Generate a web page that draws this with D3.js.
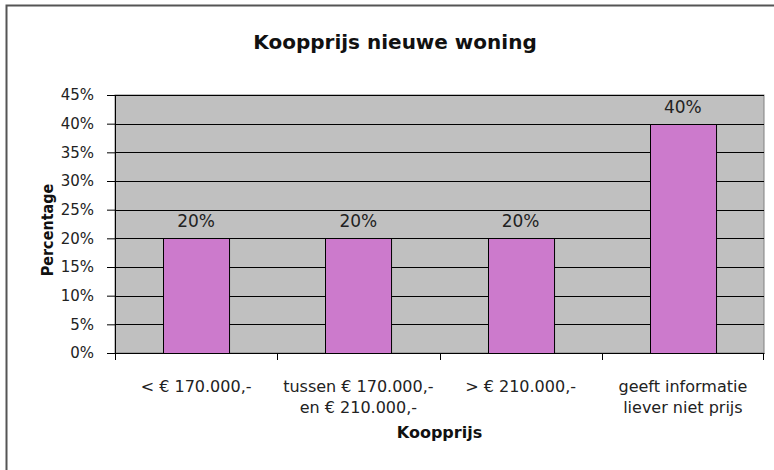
<!DOCTYPE html>
<html>
<head>
<meta charset="utf-8">
<script src="https://cdn.jsdelivr.net/npm/d3@7"></script>
<style>
  body { margin: 0; background: #fff; }
  svg { display: block; font-family: "DejaVu Sans", Verdana, sans-serif; }
</style>
</head>
<body>
<div id="chart"></div>
<script>
// chart data
const categories = [
  ["< € 170.000,-"],
  ["tussen € 170.000,-", "en € 210.000,-"],
  ["> € 210.000,-"],
  ["geeft informatie", "liever niet prijs"]
];
const values = [0.20, 0.20, 0.20, 0.40];
const yTicks = [0, 0.05, 0.10, 0.15, 0.20, 0.25, 0.30, 0.35, 0.40, 0.45];

const width = 774, height = 470;
const margin = { top: 95, right: 10, bottom: 117, left: 115 };
const plotW = width - margin.left - margin.right;
const plotH = height - margin.top - margin.bottom;

const svg = d3.select("#chart")
  .append("svg")
  .attr("width", width)
  .attr("height", height);

// outer chart frame (only left/top visible in the crop)
svg.append("path")
  .attr("d", "M6.5,470 V5.5 H774")
  .attr("fill", "none")
  .attr("stroke", "#555")
  .attr("stroke-width", 2);

svg.append("text")
  .attr("x", 395)
  .attr("y", 49)
  .attr("text-anchor", "middle")
  .attr("font-size", 20)
  .attr("font-weight", "bold")
  .attr("fill", "#111")
  .text("Koopprijs nieuwe woning");

const g = svg.append("g")
  .attr("transform", "translate(" + margin.left + "," + margin.top + ")");

const x = d3.scaleBand()
  .domain(d3.range(categories.length))
  .range([0, plotW])
  .paddingInner(0.593)
  .paddingOuter(0.2965);

const xBand = d3.scaleBand()
  .domain(d3.range(categories.length))
  .range([0, plotW]);

const y = d3.scaleLinear()
  .domain([0, 0.45])
  .range([plotH, 0]);

// plot area
g.append("rect")
  .attr("width", plotW)
  .attr("height", plotH)
  .attr("fill", "#c0c0c0")
  .attr("stroke", "#808080");

// gridlines
g.append("g")
  .selectAll("line")
  .data(yTicks.slice(1))
  .join("line")
  .attr("x1", 0)
  .attr("x2", plotW)
  .attr("y1", d => Math.round(y(d)) + 0.5)
  .attr("y2", d => Math.round(y(d)) + 0.5)
  .attr("stroke", "#000")
  .attr("stroke-width", 1);

// bars
g.append("g")
  .selectAll("rect")
  .data(values)
  .join("rect")
  .attr("x", (d, i) => Math.round(x(i)) + 0.5)
  .attr("y", d => Math.round(y(d)) + 0.5)
  .attr("width", x.bandwidth())
  .attr("height", d => plotH - Math.round(y(d)))
  .attr("fill", "#cc7acc")
  .attr("stroke", "#000")
  .attr("stroke-width", 1);

// value labels
g.append("g")
  .selectAll("text")
  .data(values)
  .join("text")
  .attr("x", (d, i) => x(i) + x.bandwidth() / 2)
  .attr("y", d => y(d) - 11)
  .attr("text-anchor", "middle")
  .attr("font-size", 17)
  .attr("fill", "#222")
  .text(d => d3.format(".0%")(d));

// y axis
const yAxis = g.append("g")
  .call(d3.axisLeft(y).tickValues(yTicks).tickFormat(d3.format(".0%")).tickSize(8).tickPadding(13));
yAxis.select(".domain").attr("stroke", "#000");
yAxis.selectAll(".tick line").attr("stroke", "#000");
yAxis.selectAll("text")
  .attr("font-size", 15)
  .attr("font-family", "DejaVu Sans, sans-serif")
  .attr("fill", "#222");

// x axis
const xAxis = g.append("g")
  .attr("transform", "translate(0," + plotH + ")")
  .call(d3.axisBottom(xBand).tickValues([]).tickSizeOuter(0));
xAxis.select(".domain").attr("stroke", "#000");
xAxis.selectAll("line.sep")
  .data(d3.range(categories.length + 1))
  .join("line")
  .attr("class", "sep")
  .attr("x1", i => i < categories.length ? Math.round(xBand(i)) + 0.5 : plotW - 0.5)
  .attr("x2", i => i < categories.length ? Math.round(xBand(i)) + 0.5 : plotW - 0.5)
  .attr("y1", 0)
  .attr("y2", 7)
  .attr("stroke", "#000");

const catLabels = g.append("g")
  .selectAll("text")
  .data(categories)
  .join("text")
  .attr("x", (d, i) => xBand(i) + xBand.bandwidth() / 2)
  .attr("y", 392 - margin.top)
  .attr("text-anchor", "middle")
  .attr("font-size", 16)
  .attr("fill", "#222");
catLabels.selectAll("tspan")
  .data(d => d)
  .join("tspan")
  .attr("x", function() { return d3.select(this.parentNode).attr("x"); })
  .attr("dy", (d, i) => i === 0 ? 0 : 21)
  .text(d => d);

// axis titles
svg.append("text")
  .attr("x", margin.left + plotW / 2)
  .attr("y", 438)
  .attr("text-anchor", "middle")
  .attr("font-size", 16)
  .attr("font-weight", "bold")
  .attr("fill", "#111")
  .text("Koopprijs");

svg.append("text")
  .attr("transform", "translate(53," + 230 + ") rotate(-90)")
  .attr("text-anchor", "middle")
  .attr("font-size", 16)
  .attr("font-weight", "bold")
  .attr("font-family", "DejaVu Sans Condensed, DejaVu Sans, sans-serif")
  .attr("fill", "#111")
  .text("Percentage");
</script>
</body>
</html>
